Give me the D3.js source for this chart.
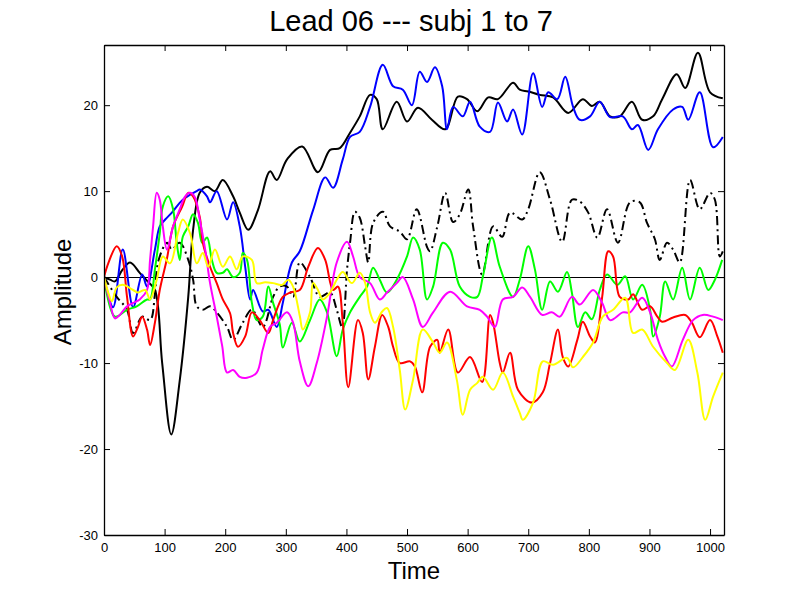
<!DOCTYPE html>
<html>
<head>
<meta charset="utf-8">
<script src="https://cdn.jsdelivr.net/npm/d3@7"></script>
<style>
  body { margin: 0; background: #fff; }
  text { font-family: "Liberation Sans", Arial, sans-serif; }
</style>
</head>
<body>
<div id="chart"></div>
<script>
// values: [time, amplitude]
var subj1 = [[0,0],[10,-0.3],[18,-0.5],[30,0.8],[43,1.7],[59,0.5],[72,-0.5],[84,-1.5],[96,-10],[111,-18.3],[125,-12],[139,-2.3],[147,5.5],[158,9.8],[170,10.5],[183,10],[196,11.3],[213,9.4],[224,7.5],[238,5.5],[254,7.8],[274,12.3],[285,11.3],[302,13.7],[327,15.2],[353,12.2],[373,14.8],[389,15],[406,16.8],[422,18.7],[439,21.2],[450,20.7],[460,17.2],[483,20.4],[500,18.1],[518,19.7],[541,18.3],[563,17.2],[584,21],[599,20.7],[616,19.3],[634,20.9],[650,20.7],[675,22.6],[686,21.8],[700,21.6],[719,21.2],[741,20.9],[766,19.1],[790,20.7],[805,19.9],[818,20.4],[835,18.7],[851,18.7],[871,20.4],[888,18.3],[906,18.7],[921,20.7],[945,23.6],[959,22],[980,26.1],[1000,21.5],[1021,20.8]];

var subj2 = [[0,0],[15,-3.5],[31,3.2],[48,-3.5],[63,0.3],[71,-1.1],[84,3.2],[92,5.9],[101,6.7],[112,7.5],[130,9],[153,10],[158,10.2],[170,9.4],[175,8.7],[186,10],[203,6.7],[213,8.7],[224,5.9],[233,1.2],[241,-2.6],[246,-1.5],[262,-4],[271,-3.8],[285,-5.8],[295,-3],[310,1.7],[323,3],[345,7.8],[365,11.6],[378,10.4],[394,13.7],[406,16.3],[422,16.9],[439,19.8],[460,24.7],[477,22.2],[493,21.8],[508,20],[521,23.9],[533,22.7],[546,24.4],[558,22.2],[566,17.2],[576,19.8],[592,18.7],[604,20.4],[620,17.5],[637,16.9],[650,20.3],[665,18.1],[675,19.5],[690,16.6],[708,23.7],[723,19.8],[733,21.5],[748,20.7],[761,23.3],[774,19.8],[785,18.3],[802,18.7],[818,20.4],[835,18.6],[856,18.7],[871,17.2],[881,17.7],[898,14.8],[914,17.2],[939,19.5],[954,19.8],[964,18.3],[983,21.5],[1005,15.1],[1021,16.3]];

var subj3 = [[0,0],[21,-2.3],[38,-3.8],[48,-6.5],[63,-4.6],[76,-5],[84,-2],[89,1.7],[104,4],[112,3.2],[125,4],[139,2],[147,-0.3],[153,-3.4],[163,-3.8],[175,-3.4],[186,-4.1],[203,-5.8],[213,-7.3],[229,-5.3],[244,-3.8],[262,-5.8],[279,-2.3],[290,-1.1],[302,-1.1],[312,-2.3],[323,1.7],[340,0],[356,-2.3],[373,-1.8],[384,-3.8],[393,-5.8],[401,0.9],[406,4],[414,7.6],[422,6.9],[431,3.5],[436,1.7],[444,6.3],[460,7.6],[472,5.9],[488,5.3],[500,4.4],[516,7.9],[533,3.5],[538,3],[550,5.9],[563,9.8],[576,6.4],[587,7.3],[601,10.2],[609,5.9],[624,0.3],[642,5.9],[657,4.7],[670,7.5],[690,6.7],[700,7.9],[719,12.2],[736,9],[756,4.1],[772,9],[785,8.8],[799,7.5],[814,4.6],[830,7.9],[848,4],[868,8.7],[884,8.7],[896,6.3],[909,4.4],[917,2],[929,4],[939,3.2],[950,1.7],[967,11.3],[983,7.9],[1000,9.8],[1008,9],[1016,2.4],[1021,3]];

var subj4 = [[0,0],[18,-4.6],[38,-3.8],[54,-3.4],[71,-2.6],[76,-2.6],[84,0.9],[92,5.1],[97,8.2],[106,9.4],[114,7.9],[120,4],[125,2],[130,4.7],[139,5.9],[147,7.3],[155,6.3],[162,4],[170,4.6],[178,2],[186,0.5],[196,0.5],[203,0.9],[213,0],[224,0.5],[229,2.8],[236,2],[244,-3],[252,-5],[262,-4.6],[271,-1.1],[279,-3],[290,-5.5],[295,-8.2],[310,-5.3],[323,-7.5],[340,-5],[356,-2.6],[368,-4.1],[384,-9.2],[394,-6.1],[406,-4.1],[422,-2.3],[434,-1.1],[444,1.1],[455,-0.3],[467,-1.8],[483,-0.3],[500,2.4],[510,4.6],[521,3.2],[533,-2.6],[543,-1.1],[559,4],[571,3.2],[587,-1.1],[604,-2.3],[616,-2.3],[625,0],[640,4.6],[653,1.2],[675,-2.3],[686,-0.3],[700,3.6],[711,0.9],[723,-3.8],[736,-0.5],[749,-1.7],[764,0.6],[772,-1.8],[782,-5.8],[794,-4.1],[805,-4.9],[818,-1.5],[830,0.3],[847,-0.9],[860,0.1],[873,-2.6],[888,-0.9],[901,-3.8],[906,-6.9],[917,-4.6],[926,-0.5],[939,-2.6],[954,1.1],[967,-2.6],[983,1.1],[997,-1.5],[1008,-0.3],[1020,2]];

var subj5 = [[0,0],[7,1.6],[21,3.6],[30,2.4],[38,-2.3],[48,-6.9],[56,-5.8],[63,-4.6],[71,-6.1],[76,-7.9],[84,-5.3],[92,-1.5],[104,2.2],[114,5.9],[129,8.2],[139,9.8],[147,9.4],[158,7],[163,4],[175,1.2],[186,-0.7],[196,-2.6],[208,-4.2],[213,-6.5],[221,-8.1],[233,-6.9],[244,-4.1],[257,-5],[271,-6.5],[279,-5],[295,-2.3],[307,-1.8],[323,-1.5],[337,1.2],[353,3.4],[365,2],[378,-1.5],[386,-1.1],[394,-5.3],[403,-12.8],[419,-5],[427,-6.5],[436,-11.9],[447,-8.1],[459,-4.4],[469,-5.8],[477,-8.1],[488,-10],[505,-9.8],[513,-10.4],[525,-13.4],[538,-8.1],[550,-7.3],[554,-8.8],[568,-6.1],[584,-11.1],[604,-9.3],[624,-12.2],[637,-4.4],[642,-5.3],[653,-10],[658,-11.1],[670,-8.8],[683,-13.1],[706,-14.6],[724,-13.4],[736,-10],[749,-6.1],[757,-9.3],[766,-10.4],[781,-7.3],[790,-5.2],[802,-6.9],[810,-7.6],[822,-2.3],[832,3],[840,2.4],[851,-2.3],[865,-2.6],[873,-2],[888,-3.8],[901,-3.4],[913,-4.6],[921,-5.2],[939,-4.7],[959,-4.4],[970,-5.3],[983,-7],[1000,-5],[1012,-6.9],[1021,-8.8]];

var subj6 = [[0,0],[10,-3],[18,-4.8],[26,-4.4],[38,-3.4],[48,-3],[59,-2.6],[71,-1.5],[76,2],[81,5.9],[87,9.8],[92,9],[97,5.9],[104,3.2],[114,5.9],[125,7.9],[134,9.4],[142,9.8],[150,9.3],[158,6.7],[167,3.2],[175,-0.7],[186,-4.6],[195,-8],[203,-11.1],[213,-10.8],[224,-11.6],[236,-11.7],[252,-11.1],[262,-8.4],[274,-5.8],[285,-5.3],[302,-4.1],[312,-5.3],[323,-9.8],[337,-12.7],[351,-10],[368,-4.6],[384,1.7],[401,4.1],[411,2.4],[422,0],[439,-0.7],[455,-2.6],[467,-1.8],[483,-0.7],[493,0],[510,-2.6],[526,-5.8],[543,-4.1],[571,-1.7],[599,-3.4],[620,-3.8],[632,-4.6],[645,-5.8],[658,-2.6],[675,-2.3],[690,-1.2],[703,-2.3],[723,-4.4],[739,-4.1],[752,-4.6],[772,-2.3],[785,-3.2],[807,-1.5],[822,-3],[835,-5],[856,-4.1],[868,-4.1],[888,-2.4],[901,-4.1],[914,-7.3],[926,-9.3],[937,-10.4],[955,-7.3],[972,-5],[988,-4.4],[1005,-4.6],[1021,-5]];

var subj7 = [[0,0],[7,-1.8],[13,-2.8],[21,-1.2],[31,-0.9],[48,-1.5],[56,-1.8],[68,-1.5],[76,-2.6],[87,-0.3],[97,2.4],[109,1.6],[122,5.1],[130,6.7],[142,5.1],[153,1.6],[163,2.8],[172,1.2],[183,3.2],[196,1.2],[208,2.4],[219,0.9],[229,2.4],[244,2],[252,-0.7],[266,-0.6],[279,-0.7],[294,-0.9],[304,-0.3],[312,-1.1],[323,-4.5],[328,-6.1],[340,-4.1],[345,-0.7],[353,-1.5],[361,-2.6],[373,-1.8],[384,-0.3],[394,0.6],[409,-0.7],[422,0.5],[431,-0.7],[439,-4.1],[447,-5.3],[459,-4],[467,-3.6],[477,-5.8],[488,-10.8],[497,-15.4],[510,-11.9],[526,-6.1],[543,-7.6],[554,-8.8],[566,-7.6],[582,-11.9],[592,-16],[604,-13.1],[616,-12.3],[625,-11.6],[642,-13.1],[658,-11.1],[675,-13.9],[686,-15.8],[691,-16.6],[708,-14.6],[724,-9.8],[741,-10.2],[764,-9.4],[774,-10.5],[790,-9.3],[807,-7.6],[823,-4.6],[840,-3.8],[860,-2.4],[873,-6.5],[888,-6.1],[906,-8.1],[929,-10],[942,-10.8],[964,-7.3],[979,-11.1],[992,-16.6],[1005,-13.9],[1021,-11.1]];

var seriesList = [subj1, subj2, subj3, subj4, subj5, subj6, subj7];
var seriesColors = ["#000000", "#0000ff", "#000000", "#00ff00", "#ff0000", "#ff00ff", "#ffff00"];
var seriesDash = [null, null, "9,4,2,4", null, null, null, null];

var xTicks = [0, 100, 200, 300, 400, 500, 600, 700, 800, 900, 1000];
var yTicks = [-30, -20, -10, 0, 10, 20];

var margin = {top: 45, right: 76, bottom: 66, left: 104};
var width = 800 - margin.left - margin.right;
var height = 601 - margin.top - margin.bottom;

var svg = d3.select("#chart").append("svg")
    .attr("width", 800)
    .attr("height", 601);

var g = svg.append("g")
    .attr("transform", "translate(" + margin.left + "," + margin.top + ")");

var x = d3.scaleLinear().domain([0, 1023]).range([0, width]);
var y = d3.scaleLinear().domain([-30, 27]).range([height, 0]);

g.append("clipPath").attr("id", "clip")
  .append("rect").attr("width", width).attr("height", height);

// zero line
g.append("line")
    .attr("x1", 0).attr("x2", width)
    .attr("y1", y(0)).attr("y2", y(0))
    .attr("stroke", "#000").attr("stroke-width", 1)
    .attr("shape-rendering", "crispEdges");

var line = d3.line()
    .x(function(d) { return x(d[0]); })
    .y(function(d) { return y(d[1]); })
    .curve(d3.curveCatmullRom.alpha(0.5));

seriesList.forEach(function(s, i) {
  g.append("path")
      .datum(s)
      .attr("clip-path", "url(#clip)")
      .attr("fill", "none")
      .attr("stroke", seriesColors[i])
      .attr("stroke-width", 2)
      .attr("stroke-dasharray", seriesDash[i])
      .attr("d", line);
});

// axes, matlab style: ticks inside on all four sides
var tk = 6;
var plain = function(d) { return String(d); };
g.append("g")
    .attr("transform", "translate(0," + height + ")")
    .call(d3.axisBottom(x).tickValues(xTicks).tickFormat(plain).tickSizeInner(-tk).tickSizeOuter(0).tickPadding(8));
g.append("g")
    .call(d3.axisTop(x).tickValues(xTicks).tickSizeInner(-tk).tickSizeOuter(0).tickFormat(""));
g.append("g")
    .call(d3.axisLeft(y).tickValues(yTicks).tickFormat(plain).tickSizeInner(-tk).tickSizeOuter(0).tickPadding(6));
g.append("g")
    .attr("transform", "translate(" + width + ",0)")
    .call(d3.axisRight(y).tickValues(yTicks).tickSizeInner(-tk).tickSizeOuter(0).tickFormat(""));

g.selectAll(".domain").attr("stroke", "#000").attr("stroke-width", 1.3);
g.selectAll(".tick line").attr("stroke", "#000");
g.selectAll(".tick text")
    .style("font-family", "Liberation Sans, Arial, sans-serif")
    .style("font-size", "13px")
    .attr("fill", "#000");

// title and axis labels
svg.append("text")
    .attr("x", 411)
    .attr("y", 31)
    .attr("text-anchor", "middle")
    .style("font-size", "29px")
    .text("Lead 06 --- subj 1 to 7");

svg.append("text")
    .attr("x", 414)
    .attr("y", 579)
    .attr("text-anchor", "middle")
    .style("font-size", "24px")
    .text("Time");

svg.append("text")
    .attr("transform", "translate(71,292) rotate(-90)")
    .attr("text-anchor", "middle")
    .style("font-size", "24px")
    .text("Amplitude");
</script>
</body>
</html>
